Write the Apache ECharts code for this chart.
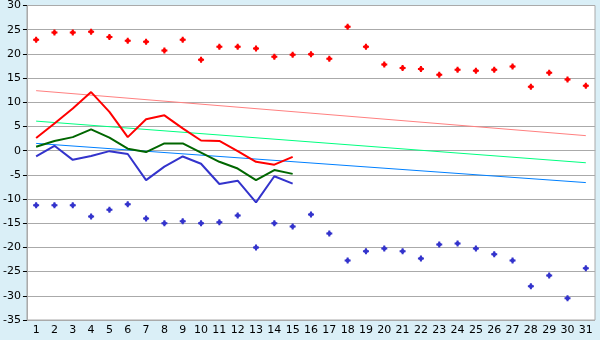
<!DOCTYPE html>
<html>
<head>
<meta charset="utf-8">
<script src="https://cdn.jsdelivr.net/npm/echarts@6/dist/echarts.min.js"></script>
<style>
  html, body { margin: 0; padding: 0; background: #daeff7; }
  #chart { width: 600px; height: 340px; }
</style>
</head>
<body>
<div id="chart"></div>
<script>
// X轴 日期
var days = ['1','2','3','4','5','6','7','8','9','10','11','12','13','14','15','16',
  '17','18','19','20','21','22','23','24','25','26','27','28','29','30','31'];

// 最高温度点
var maxPoints = [22.9, 24.4, 24.4, 24.6, 23.5, 22.7, 22.5, 20.7, 22.9, 18.8, 21.5, 21.5, 21.1, 19.4, 19.8,
  19.9, 19.0, 25.6, 21.5, 17.8, 17.1, 16.9, 15.7, 16.7, 16.5, 16.7, 17.4, 13.2, 16.1, 14.7, 13.4];
// 最低温度点
var minPoints = [-11.3, -11.3, -11.3, -13.6, -12.2, -11.1, -14.0, -15.0, -14.6, -15.0, -14.8, -13.4, -20.0, -15.0, -15.7,
  -13.2, -17.1, -22.7, -20.8, -20.2, -20.8, -22.3, -19.4, -19.2, -20.2, -21.4, -22.7, -28.0, -25.8, -30.5, -24.3];

// 折线 (1-15日)
var redLine = [2.6, 5.6, 8.7, 12.1, 8.0, 2.8, 6.5, 7.3, 4.6, 2.1, 2.0, -0.1, -2.3, -2.9, -1.3];
var greenLine = [0.8, 2.0, 2.8, 4.4, 2.7, 0.4, -0.3, 1.5, 1.5, -0.4, -2.3, -3.7, -6.1, -4.0, -4.8];
var blueLine = [-1.2, 1.0, -1.9, -1.1, -0.1, -0.7, -6.1, -3.3, -1.2, -2.7, -6.9, -6.2, -10.7, -5.3, -6.8];

// 趋势线 起点/终点 (1日, 31日)
var redTrend = [12.4, 3.1];
var greenTrend = [6.1, -2.5];
var blueTrend = [1.5, -6.6];

var yTicks = { min: -35, max: 30, interval: 5 };

function trend(ends) {
  var arr = days.map(function() { return null; });
  arr[0] = ends[0];
  arr[days.length - 1] = ends[1];
  return arr;
}

// 小菱形标记 (圆角十字)
var crossMark = 'path://M2,0 L4,0 L4,1 L5,2 L6,2 L6,4 L5,4 L4,5 L4,6 L2,6 L2,5 L1,4 L0,4 L0,2 L1,2 L2,1 Z';

var chart = echarts.init(document.getElementById('chart'));
chart.setOption({
  backgroundColor: '#daeff7',
  animation: false,
  textStyle: { fontFamily: 'DejaVu Sans' },
  grid: {
    left: 26, right: 5, top: 5, bottom: 20,
    show: true, backgroundColor: '#ffffff', borderColor: '#aaaaaa', borderWidth: 1
  },
  xAxis: {
    type: 'category',
    data: days,
    boundaryGap: true,
    axisLine: { lineStyle: { color: '#aaaaaa' } },
    axisTick: { alignWithLabel: true, length: 4, lineStyle: { color: '#000' } },
    axisLabel: { color: '#000', fontSize: 11, margin: 5, interval: 0 },
    splitLine: { show: false }
  },
  yAxis: {
    type: 'value',
    min: yTicks.min, max: yTicks.max, interval: yTicks.interval,
    axisLine: { show: true, lineStyle: { color: '#aaaaaa' } },
    axisTick: { show: true, length: 4, lineStyle: { color: '#000' } },
    axisLabel: { color: '#000', fontSize: 11, margin: 6 },
    splitLine: { lineStyle: { color: '#aaaaaa', width: 1 } }
  },
  series: [
    { type: 'line', data: trend(redTrend), connectNulls: true, symbol: 'none',
      lineStyle: { color: '#ff8080', width: 1 } },
    { type: 'line', data: trend(greenTrend), connectNulls: true, symbol: 'none',
      lineStyle: { color: '#00ff80', width: 1 } },
    { type: 'line', data: trend(blueTrend), connectNulls: true, symbol: 'none',
      lineStyle: { color: '#0080ff', width: 1 } },
    { type: 'scatter', data: maxPoints, symbol: crossMark, symbolSize: 6,
      itemStyle: { color: '#ff0000', opacity: 1 } },
    { type: 'scatter', data: minPoints, symbol: crossMark, symbolSize: 6,
      itemStyle: { color: '#3333cc', opacity: 1 } },
    { type: 'line', data: redLine, symbol: 'none',
      lineStyle: { color: '#ff0000', width: 2 } },
    { type: 'line', data: greenLine, symbol: 'none',
      lineStyle: { color: '#006600', width: 2 } },
    { type: 'line', data: blueLine, symbol: 'none',
      lineStyle: { color: '#3333cc', width: 2 } }
  ]
});
</script>
</body>
</html>
